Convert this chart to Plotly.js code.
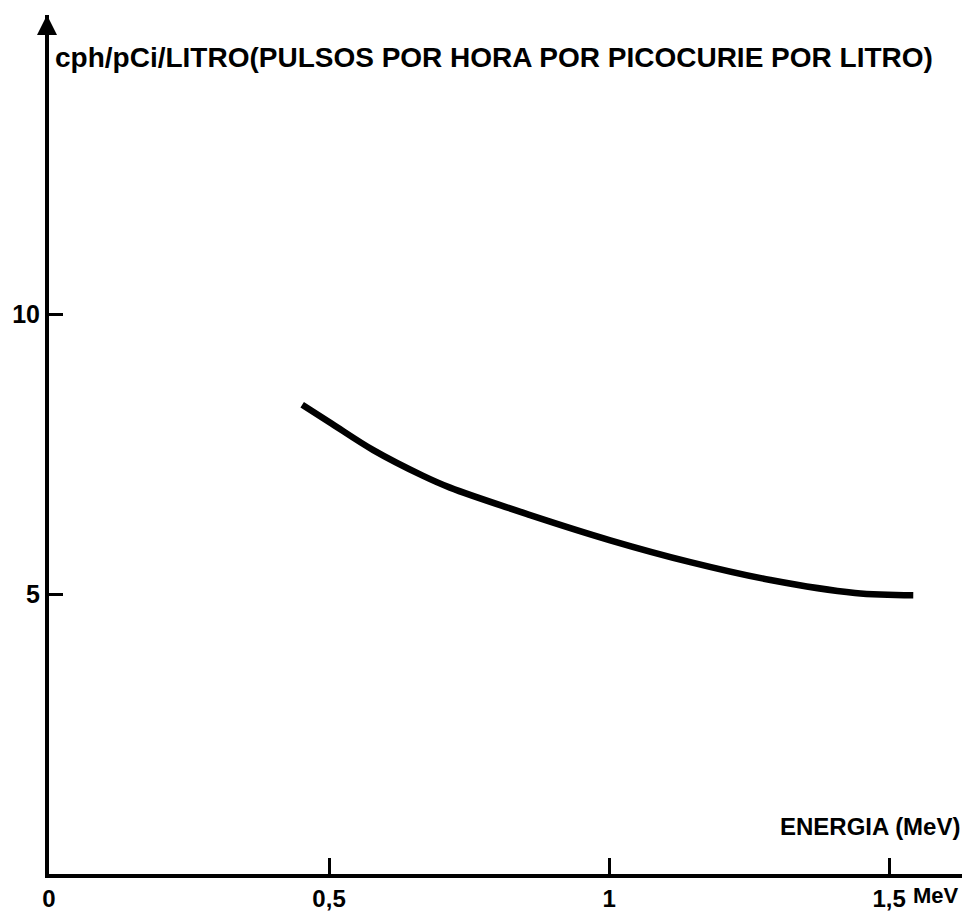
<!DOCTYPE html>
<html>
<head>
<meta charset="utf-8">
<script src="https://cdn.plot.ly/plotly-3.0.1.min.js"></script>
<style>html,body{margin:0;padding:0;background:#fff;}#chart{width:974px;height:913px;}</style>
</head>
<body>
<div id="chart"></div>
<script>
// Energy (MeV) and counting efficiency (cph/pCi/litro)
const energia = [0.452, 0.505, 0.579, 0.668, 0.716, 0.859, 1.002, 1.145, 1.288, 1.439, 1.543];
const cph = [8.38, 8.04, 7.57, 7.11, 6.90, 6.41, 5.96, 5.57, 5.25, 5.02, 4.98];

const xTickVals = [0, 0.5, 1, 1.5];
const xTickText = ["0", "0,5", "1", "1,5"];
const yTickVals = [5, 10];
const yTickText = ["5", "10"];

const yTitle = "cph/pCi/LITRO(PULSOS POR HORA POR PICOCURIE POR LITRO)";
const xTitle = "ENERGIA (MeV)";
const xUnit = "MeV";

const FONT = "Liberation Sans, Arial, sans-serif";

const trace = {
  x: energia, y: cph, type: "scatter", mode: "lines",
  line: {color: "#000", width: 6.5, shape: "spline", smoothing: 1},
  hoverinfo: "skip"
};

const layout = {
  width: 974, height: 913,
  margin: {l: 49, r: 12, t: 15, b: 39},
  paper_bgcolor: "#fff", plot_bgcolor: "#fff",
  showlegend: false,
  xaxis: {
    range: [0, 1.63], showgrid: false, zeroline: false,
    showline: true, linecolor: "#000", linewidth: 4,
    ticks: "inside", ticklen: 16, tickwidth: 3, tickcolor: "#000",
    tickvals: xTickVals, ticktext: xTickText,
    tickfont: {family: FONT, size: 24, color: "#000", weight: 700}
  },
  yaxis: {
    range: [0, 15.34], showgrid: false, zeroline: false,
    showline: true, linecolor: "#000", linewidth: 4,
    ticks: "inside", ticklen: 14, tickwidth: 3, tickcolor: "#000",
    tickvals: yTickVals, ticktext: yTickText,
    tickfont: {family: FONT, size: 25, color: "#000", weight: 700}
  },
  annotations: [
    {xref: "paper", yref: "paper", x: 0.487, y: 0.95, xanchor: "center", yanchor: "middle",
     text: yTitle, showarrow: false, font: {family: FONT, size: 28, color: "#000", weight: 700}},
    {xref: "paper", yref: "paper", x: 1, y: 0.055, xanchor: "right", yanchor: "middle",
     text: xTitle, showarrow: false, font: {family: FONT, size: 24, color: "#000", weight: 700}},
    {xref: "x", yref: "paper", x: 1.5, y: 0, yshift: -7, xshift: 22, xanchor: "left", yanchor: "top",
     text: xUnit, showarrow: false, font: {family: FONT, size: 22, color: "#000", weight: 700}},
    {xref: "x", yref: "paper", x: 0, y: 1, ax: 0, ay: 32, text: "", showarrow: true,
     arrowhead: 2, arrowsize: 1, arrowwidth: 4, arrowcolor: "#000", xshift: -2}
  ]
};

Plotly.newPlot("chart", [trace], layout, {displayModeBar: false, staticPlot: true});
</script>
</body>
</html>
